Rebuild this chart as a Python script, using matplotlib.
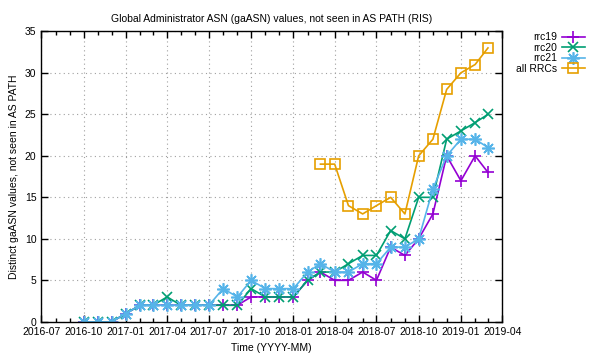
import matplotlib
matplotlib.use("Agg")
import matplotlib.pyplot as plt
import matplotlib.dates as mdates
import numpy as np
from datetime import datetime

months = ["2016-10", "2016-11", "2016-12", "2017-01", "2017-02", "2017-03",
          "2017-04", "2017-05", "2017-06", "2017-07", "2017-08", "2017-09",
          "2017-10", "2017-11", "2017-12", "2018-01", "2018-02", "2018-03",
          "2018-04", "2018-05", "2018-06", "2018-07", "2018-08", "2018-09",
          "2018-10", "2018-11", "2018-12", "2019-01", "2019-02", "2019-03"]

rrc19 = [0, 0, 0, 1, 2, 2, 2, 2, 2, 2, 2, 2, 3, 3, 3, 3, 5, 6,
         5, 5, 6, 5, 9, 8, 10, 13, 20, 17, 20, 18]
rrc20 = [0, 0, 0, 1, 2, 2, 3, 2, 2, 2, 2, 2, 4, 3, 3, 3, 5, 6,
         6, 7, 8, 8, 11, 10, 15, 15, 22, 23, 24, 25]
rrc21 = [0, 0, 0, 1, 2, 2, 2, 2, 2, 2, 4, 3, 5, 4, 4, 4, 6, 7,
         6, 6, 7, 7, 9, 9, 10, 16, 20, 22, 22, 21]
all_rrcs = [None] * 17 + [19, 19, 14, 13, 14, 15, 13, 20, 22, 28, 30, 31, 33]

dates = [datetime.strptime(m, "%Y-%m") for m in months]
all_vals = np.array([np.nan if v is None else v for v in all_rrcs], dtype=float)

plt.rcParams['font.family'] = ['Liberation Sans', 'DejaVu Sans']
plt.rcParams['font.size'] = 7.5

fig = plt.figure(figsize=(6, 3.6), dpi=100)
ax = fig.add_axes([0.069, 0.106, 0.768, 0.807])

# gnuplot style asterisk: + and x together
star = (8, 2, 0)

ax.plot(dates, rrc19, color="#9400d3", marker="+", markersize=9, mew=1.2, lw=1.2, label="rrc19")
ax.plot(dates, rrc20, color="#009e73", marker="x", markersize=7, mew=1.2, lw=1.2, label="rrc20")
ax.plot(dates, rrc21, color="#56b4e9", marker=star, markersize=9, mew=1.2, lw=1.2, label="rrc21")
ax.plot(dates, all_vals, color="#e69f00", marker="s", markersize=7.5, mew=1.2, mfc="none",
        lw=1.2, label="all RRCs")

ax.set_xlim(datetime(2016, 7, 1), datetime(2019, 4, 1))
ax.set_ylim(0, 35)
ax.set_yticks(range(0, 36, 5))
ax.xaxis.set_major_locator(mdates.MonthLocator(bymonth=[1, 4, 7, 10]))
ax.xaxis.set_minor_locator(mdates.MonthLocator())
ax.xaxis.set_major_formatter(mdates.DateFormatter("%Y-%m"))

ax.grid(True, which="major", linestyle=(0, (1, 3)), color="#a0a0a0", lw=0.8)
ax.tick_params(which="both", direction="in", top=True, right=True, width=1, color="black")
ax.tick_params(which="major", length=5)
ax.tick_params(which="minor", length=3)
ax.tick_params(axis="x", pad=4)
for s in ax.spines.values():
    s.set_linewidth(1)

ax.set_title("Global Administrator ASN (gaASN) values, not seen in AS PATH (RIS)", fontsize=7.5, pad=7)
ax.set_xlabel("Time (YYYY-MM)")
ax.set_ylabel("Distinct gaASN values, not seen in AS PATH")

ax.legend(loc="upper right", bbox_to_anchor=(0.983, 0.925), bbox_transform=fig.transFigure,
          frameon=False, markerfirst=False, handlelength=2.2, labelspacing=0.05,
          handletextpad=0.4, borderpad=0)

fig.savefig("out.png", dpi=100)
